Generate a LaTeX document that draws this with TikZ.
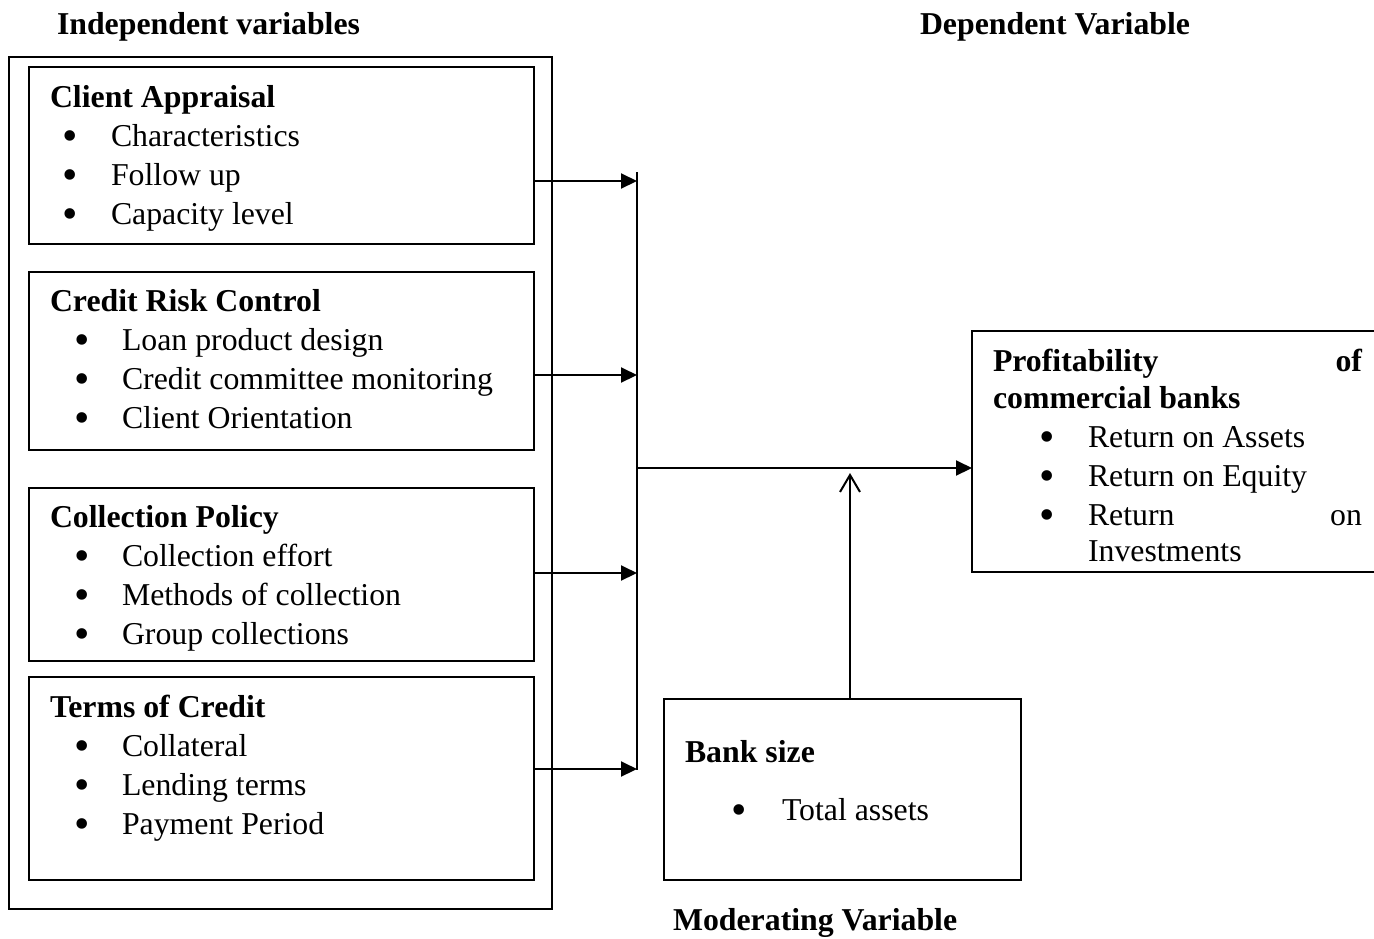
\documentclass[tikz,border=0pt]{standalone}
\usepackage{fontspec}
\setmainfont{Liberation Serif}
\usetikzlibrary{arrows.meta}
\tikzset{
  box/.style={draw, line width=1pt, inner sep=0pt, outer sep=0pt, anchor=north west},
  ibox/.style={box, line width=0.85pt},
  txt/.style={inner sep=0pt, outer sep=0pt, anchor=base west, font=\fontsize{15.9}{19}\selectfont},
  btxt/.style={txt, font=\fontsize{15.9}{19}\selectfont\bfseries},
  rtxt/.style={txt, anchor=base east},
  brtxt/.style={btxt, anchor=base east},
  bul/.style={inner sep=0pt, outer sep=0pt, anchor=base, yshift=-2.3pt, font=\fontsize{22}{22}\selectfont},
  arr/.style={line width=1pt, -{Triangle[length=8pt,width=7.5pt]}},
  oarr/.style={line width=1pt, -{Straight Barb[length=8.5pt,width=10pt,line width=1pt]}},
  ln/.style={line width=1pt}
}
\begin{document}
\begin{tikzpicture}[x=0.5pt,y=-0.5pt]
\useasboundingbox (0,0) rectangle (1374,938);
% headings
\node[btxt] (hind) at (57,34) {Independent variables};
\node[btxt] (hdep) at (920,34) {Dependent Variable};
\node[btxt] (hmod) at (673,930) {Moderating Variable};
% boxes
\node[box, minimum width=271.5pt, minimum height=426pt] (outer) at (9,57) {};
\node[ibox, minimum width=252.5pt, minimum height=88.5pt] (ca) at (29,67) {};
\node[ibox, minimum width=252.5pt, minimum height=89pt] (cr) at (29,272) {};
\node[ibox, minimum width=252.5pt, minimum height=86.5pt] (cp) at (29,488) {};
\node[ibox, minimum width=252.5pt, minimum height=101.5pt] (tc) at (29,677) {};
\node[box, minimum width=178.5pt, minimum height=90.5pt] (bs) at (664,699) {};
\node[box, minimum width=202pt, minimum height=120.5pt] (pr) at (972,331) {};
% Client Appraisal
\node[btxt] (ca0) at (50,107) {Client Appraisal};
\node[bul] (cab1) at (70,146) {•};
\node[txt] (ca1) at (111,146) {Characteristics};
\node[bul] (cab2) at (70,185) {•};
\node[txt] (ca2) at (111,185) {Follow up};
\node[bul] (cab3) at (70,224) {•};
\node[txt] (ca3) at (111,224) {Capacity level};
% Credit Risk Control
\node[btxt] (cr0) at (50,311) {Credit Risk Control};
\node[bul] (crb1) at (82,350) {•};
\node[txt] (cr1) at (122,350) {Loan product design};
\node[bul] (crb2) at (82,389) {•};
\node[txt] (cr2) at (122,389) {Credit committee monitoring};
\node[bul] (crb3) at (82,428) {•};
\node[txt] (cr3) at (122,428) {Client Orientation};
% Collection Policy
\node[btxt] (cp0) at (50,527) {Collection Policy};
\node[bul] (cpb1) at (82,566) {•};
\node[txt] (cp1) at (122,566) {Collection effort};
\node[bul] (cpb2) at (82,605) {•};
\node[txt] (cp2) at (122,605) {Methods of collection};
\node[bul] (cpb3) at (82,644) {•};
\node[txt] (cp3) at (122,644) {Group collections};
% Terms of Credit
\node[btxt] (tc0) at (50,717) {Terms of Credit};
\node[bul] (tcb1) at (82,756) {•};
\node[txt] (tc1) at (122,756) {Collateral};
\node[bul] (tcb2) at (82,795) {•};
\node[txt] (tc2) at (122,795) {Lending terms};
\node[bul] (tcb3) at (82,834) {•};
\node[txt] (tc3) at (122,834) {Payment Period};
% Profitability
\node[btxt] (pr0a) at (993,371) {Profitability};
\node[brtxt] (pr0b) at (1362,371) {of};
\node[btxt] (pr0c) at (993,408) {commercial banks};
\node[bul] (prb1) at (1047,447) {•};
\node[txt] (pr1) at (1088,447) {Return on Assets};
\node[bul] (prb2) at (1047,486) {•};
\node[txt] (pr2) at (1088,486) {Return on Equity};
\node[bul] (prb3) at (1047,525) {•};
\node[txt] (pr3a) at (1088,525) {Return};
\node[rtxt] (pr3b) at (1362,525) {on};
\node[txt] (pr3c) at (1088,561) {Investments};
% Bank size
\node[btxt] (bs0) at (685,762) {Bank size};
\node[bul] (bsb1) at (739,820) {•};
\node[txt] (bs1) at (782,820) {Total assets};
% connectors
\coordinate (bustop) at (637,172);
\coordinate (busbot) at (637,770);
\coordinate (j1) at (637,181);
\coordinate (j2) at (637,375);
\coordinate (j3) at (637,573);
\coordinate (j4) at (637,769);
\coordinate (jm) at (637,468);
\coordinate (mtip) at (850,473);
\draw[ln] (bustop) -- (busbot);
\draw[arr] (ca.east |- j1) -- (j1);
\draw[arr] (cr.east |- j2) -- (j2);
\draw[arr] (cp.east |- j3) -- (j3);
\draw[arr] (tc.east |- j4) -- (j4);
\draw[arr] (jm) -- (pr.west |- jm);
\draw[oarr] (bs.north -| mtip) -- (mtip);
\end{tikzpicture}
\end{document}
